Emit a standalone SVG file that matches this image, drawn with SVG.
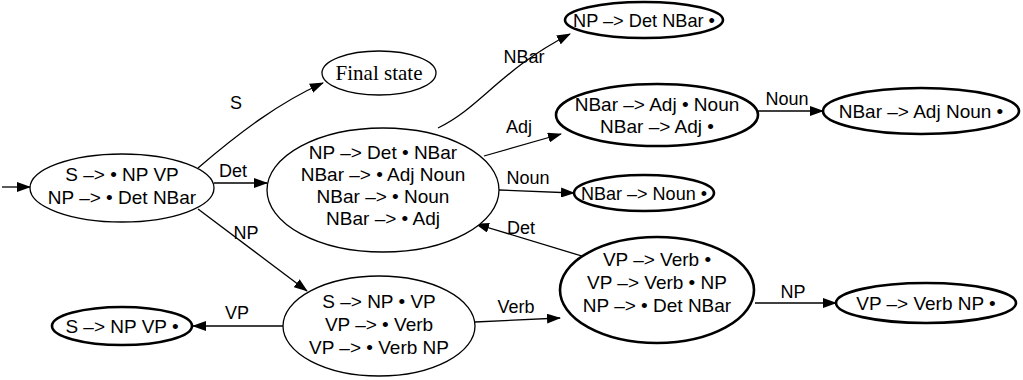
<svg xmlns="http://www.w3.org/2000/svg" width="1023" height="380" viewBox="0 0 1023 380">
<style>
.n{fill:#fff;stroke:#000;stroke-width:1.3}
.t{fill:#fff;stroke:#000;stroke-width:2.6}
text{font-family:"Liberation Sans",Arial,sans-serif;font-size:19px;fill:#000;text-anchor:middle}
.serif{font-family:"Liberation Serif","Times New Roman",serif;font-size:21px}
.e{fill:none;stroke:#000;stroke-width:1.3}
.l{font-size:18px}
</style>
<defs>
<marker id="ah" markerWidth="14" markerHeight="10" refX="13" refY="5" orient="auto" markerUnits="userSpaceOnUse">
<path d="M0,0 L14,5 L0,10 Z" fill="#000"/>
</marker>
</defs>
<rect width="1023" height="380" fill="#fff"/>
<g id="edges">
<line class="e" x1="2" y1="187" x2="30" y2="187" marker-end="url(#ah)"/>
<path class="e" d="M198,168 C240,132 280,102 323,83" marker-end="url(#ah)"/>
<text class="l" x="236" y="109">S</text>
<line class="e" x1="214" y1="183" x2="267" y2="183" marker-end="url(#ah)"/>
<text class="l" x="233" y="177">Det</text>
<line class="e" x1="198" y1="209" x2="307" y2="291" marker-end="url(#ah)"/>
<text class="l" x="246" y="239">NP</text>
<path class="e" d="M438,128 C480,108 500,70 570,34" marker-end="url(#ah)"/>
<text class="l" x="524" y="63">NBar</text>
<line class="e" x1="484" y1="156" x2="561" y2="134" marker-end="url(#ah)"/>
<text class="l" x="519" y="133">Adj</text>
<line class="e" x1="499" y1="190" x2="574" y2="193" marker-end="url(#ah)"/>
<text class="l" x="528" y="184">Noun</text>
<line class="e" x1="585" y1="257" x2="476" y2="224" marker-end="url(#ah)"/>
<text class="l" x="521" y="234">Det</text>
<line class="e" x1="758" y1="111" x2="823" y2="111" marker-end="url(#ah)"/>
<text class="l" x="787" y="105">Noun</text>
<line class="e" x1="475" y1="322" x2="560" y2="318" marker-end="url(#ah)"/>
<text class="l" x="516" y="313">Verb</text>
<line class="e" x1="755" y1="303" x2="836" y2="303" marker-end="url(#ah)"/>
<text class="l" x="793" y="298">NP</text>
<line class="e" x1="283" y1="326" x2="193" y2="326" marker-end="url(#ah)"/>
<text class="l" x="237" y="319">VP</text>
</g>
<g id="start">
<ellipse class="n" cx="122" cy="188" rx="92" ry="34"/>
<text x="122" y="181">S –&gt; • NP VP</text>
<text x="122" y="204">NP –&gt; • Det NBar</text>
</g>
<g id="final">
<ellipse class="n" cx="379" cy="73" rx="57" ry="22"/>
<text class="serif" x="379" y="80">Final state</text>
</g>
<g id="nodeA">
<ellipse class="n" cx="383" cy="190" rx="116" ry="62"/>
<text x="383" y="159">NP –&gt; Det • NBar</text>
<text x="383" y="181">NBar –&gt; • Adj Noun</text>
<text x="383" y="203">NBar –&gt; • Noun</text>
<text x="383" y="225">NBar –&gt; • Adj</text>
</g>
<g id="nodeB">
<ellipse class="t" cx="644" cy="20" rx="79" ry="18"/>
<text x="644" y="27" textLength="142" lengthAdjust="spacingAndGlyphs">NP –&gt; Det NBar •</text>
</g>
<g id="nodeC">
<ellipse class="t" cx="657" cy="115" rx="101" ry="31"/>
<text x="657" y="111">NBar –&gt; Adj • Noun</text>
<text x="657" y="133">NBar –&gt; Adj •</text>
</g>
<g id="nodeD">
<ellipse class="t" cx="921" cy="111" rx="98" ry="23"/>
<text x="921" y="118">NBar –&gt; Adj Noun •</text>
</g>
<g id="nodeE">
<ellipse class="t" cx="644" cy="193" rx="70" ry="18"/>
<text x="644" y="200" textLength="126" lengthAdjust="spacingAndGlyphs">NBar –&gt; Noun •</text>
</g>
<g id="nodeF">
<ellipse class="t" cx="657" cy="290" rx="97" ry="53"/>
<text x="657" y="266">VP –&gt; Verb •</text>
<text x="657" y="289">VP –&gt; Verb • NP</text>
<text x="657" y="312">NP –&gt; • Det NBar</text>
</g>
<g id="nodeG">
<ellipse class="t" cx="926" cy="303" rx="90" ry="20"/>
<text x="926" y="310">VP –&gt; Verb NP •</text>
</g>
<g id="nodeH">
<ellipse class="n" cx="379" cy="326" rx="96" ry="50"/>
<text x="379" y="308">S –&gt; NP • VP</text>
<text x="379" y="331">VP –&gt; • Verb</text>
<text x="379" y="354">VP –&gt; • Verb NP</text>
</g>
<g id="nodeI">
<ellipse class="t" cx="122" cy="326" rx="70" ry="19"/>
<text x="122" y="333">S –&gt; NP VP •</text>
</g>
</svg>
